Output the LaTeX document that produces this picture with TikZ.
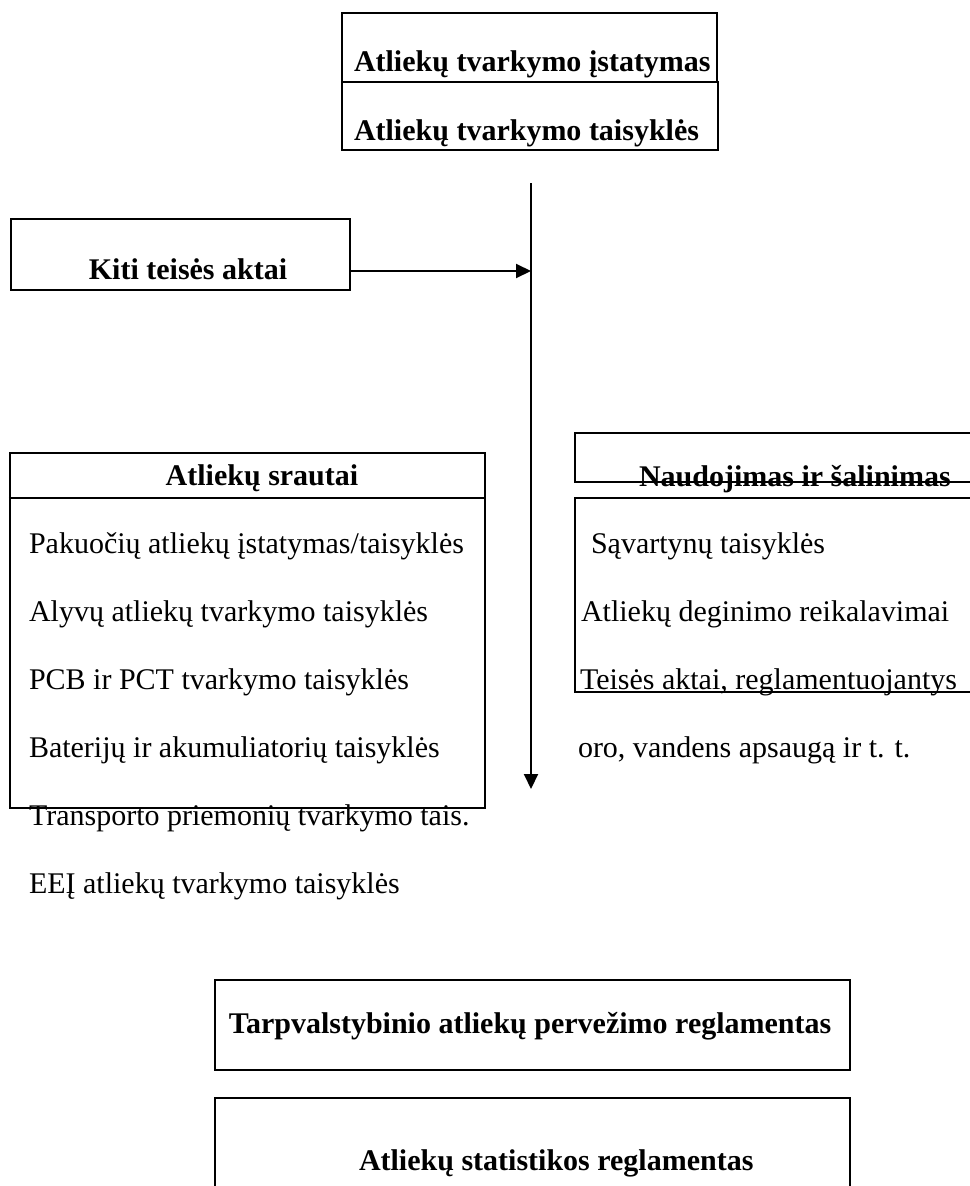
\documentclass[tikz,border=0pt]{standalone}
\usepackage{fontspec}
\setmainfont{Liberation Serif}
\usetikzlibrary{%
    arrows.meta,
    calc,
    positioning
}
\tikzset{headarrow/.style = {-{Triangle[length=6pt,width=5.6pt]}}}
\tikzset{box/.style = {draw, rectangle, inner sep=0pt}}
\tikzset{item/.style = {inner sep=0pt, font=\fontsize{12}{14}\selectfont}}
\tikzset{title/.style = {inner sep=0pt, font=\fontsize{12}{14}\selectfont\bfseries}}

\begin{document}
\begin{tikzpicture}[x=0.4pt, y=-0.4pt, line width=0.8pt]
    \useasboundingbox (0,0) rectangle (969,1186);

    % laws on top
    \node[box, minimum width=150pt, minimum height=27.6pt] (act) at (529.5,47.5) {};
    \node[box, minimum width=150.4pt, minimum height=27.2pt] (rules) at (530,116) {};
    \node[title, anchor=base west] (act-text) at (353,71) {Atliekų tvarkymo įstatymas};
    \node[title, anchor=base west] (rules-text) at (353,140) {Atliekų tvarkymo taisyklės};

    % the trunk
    \coordinate (trunk-top) at (531,183);
    \coordinate (trunk-end) at (531,789);
    \coordinate (joint) at (531,271);
    \draw[headarrow] (trunk-top) -- (trunk-end);

    \node[box, minimum width=135.6pt, minimum height=28.4pt] (other) at (180.5,254.5) {};
    \node[title, anchor=base] (other-text) at (188,279) {Kiti teisės aktai};
    \draw[headarrow] (other.east |- joint) -- (joint);

    % waste streams
    \node[box, minimum width=190pt, minimum height=142pt] (streams) at (247.5,630.5) {};
    \coordinate (streams-rule) at (0,498);
    \draw (streams.west |- streams-rule) -- (streams.east |- streams-rule);
    \node[title, anchor=base] (streams-text) at (262,485) {Atliekų srautai};
    \foreach \txt [count=\i] in {%
        Pakuočių atliekų įstatymas/taisyklės,
        Alyvų atliekų tvarkymo taisyklės,
        PCB ir PCT tvarkymo taisyklės,
        Baterijų ir akumuliatorių taisyklės,
        Transporto priemonių tvarkymo tais.,
        EEĮ atliekų tvarkymo taisyklės}
        \node[item, anchor=base west] (stream-\i) at (28,485+68*\i) {\txt};

    % recovery and disposal
    \node[box, minimum width=164pt, minimum height=19.6pt] (disposal) at (780,457.5) {};
    \node[title, anchor=base west] (disposal-text) at (638,486) {Naudojimas ir šalinimas};
    \node[box, minimum width=164pt, minimum height=77.6pt] (disposal-list) at (780,595) {};
    \foreach \x/\txt [count=\i] in {590/Sąvartynų taisyklės,
        580/Atliekų deginimo reikalavimai,
        579/{Teisės aktai, reglamentuojantys},
        577/{oro, vandens apsaugą ir t. t.}}
        \node[item, anchor=base west] (disposal-\i) at (\x,485+68*\i) {\txt};

    % regulations at the bottom
    \node[box, minimum width=254pt, minimum height=36pt] (shipment) at (532.5,1025) {};
    \node[title, anchor=base] (shipment-text) at (530,1033) {Tarpvalstybinio atliekų pervežimo reglamentas};
    \node[box, minimum width=254pt, minimum height=40.8pt] (statistics) at (532.5,1149) {};
    \node[title, anchor=base west] (statistics-text) at (358,1170) {Atliekų statistikos reglamentas};
\end{tikzpicture}
\end{document}
